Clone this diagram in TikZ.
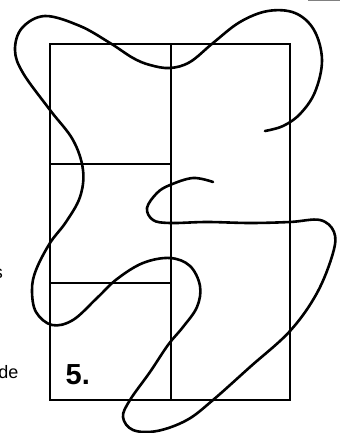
\documentclass[tikz,border=0pt]{standalone}
\usepackage{fontspec}
\setmainfont{Liberation Sans}
\begin{document}
\begin{tikzpicture}[x=1pt,y=-1pt,
  frame/.style={line width=1.1pt,black},
  squiggle/.style={line width=2.6pt,black,line cap=round,line join=round},
  lbl/.style={inner sep=0pt,font=\fontsize{18}{20}\selectfont},
  numlbl/.style={inner sep=0pt,font=\fontsize{29}{32}\selectfont\bfseries}]
\useasboundingbox (0,0) rectangle (349,433);
% frame
\coordinate (tl) at (50,44);
\coordinate (br) at (290,400);
\coordinate (mt) at (171,44);
\coordinate (mb) at (171,400);
\coordinate (h1l) at (50,164);
\coordinate (h1r) at (171,164);
\coordinate (h2l) at (50,283);
\coordinate (h2r) at (171,283);
\draw[frame] (tl) rectangle (br);
\draw[frame] (mt) -- (mb);
\draw[frame] (h1l) -- (h1r);
\draw[frame] (h2l) -- (h2r);
% top-right fragment
\coordinate (ga) at (308,0.8);
\coordinate (gb) at (340,0.8);
\draw[gray,line width=1.2pt] (ga) -- (gb);
% texts
\node[lbl,anchor=base east] (s) at (3,278) {s};
\node[lbl,anchor=base east] (de) at (18.5,378) {de};
\node[numlbl,anchor=base west] (five) at (65.5,384) {5.};
% curve
\draw[squiggle] plot[smooth,tension=0.6] coordinates {
(265,131) (283,126) (300,114) (315,92) (322,60) (314,30) (295,13) (268,11)
(240,22) (213,43) (190,62) (170,68) (150,65) (133,58) (110,43) (80,26)
(45,16) (22,28) (15,50) (23,73) (50,110) (73,140) (83,170) (80,197)
(66,222) (50,243) (36,270) (32,290) (36,312) (52,325) (73,320) (97,298)
(117,279) (143,263) (170,258) (190,266) (200,286) (197,307) (183,327)
(168,345) (150,372) (130,400) (123,417) (133,430) (157,431) (187,420)
(213,400) (250,367) (290,331) (317,293) (333,253) (334,232) (320,220)
(290,222) (250,223) (207,222) (170,223) (153,220) (147,208) (157,193)
(170,185) (193,178) (213,182)};
\end{tikzpicture}
\end{document}
